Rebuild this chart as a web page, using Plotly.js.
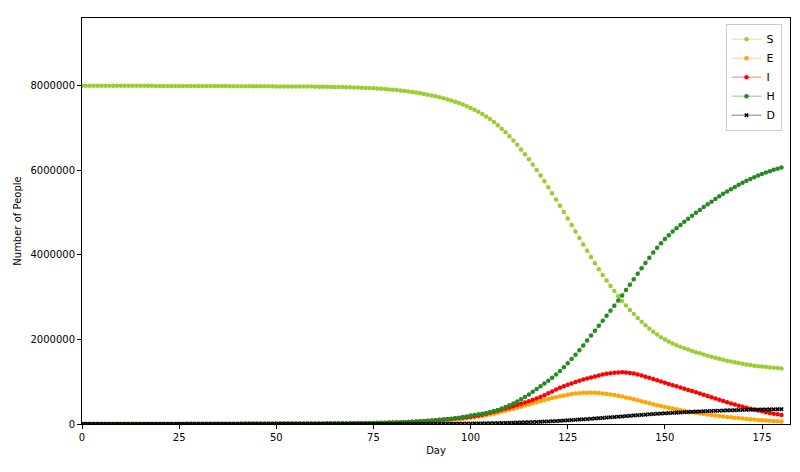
<!DOCTYPE html>
<html>
<head>
<meta charset="utf-8">
<script src="https://cdn.plot.ly/plotly-3.0.1.min.js"></script>
<style>
  html, body { margin: 0; padding: 0; background: #fff; }
  #plot { width: 800px; height: 472px; }
</style>
</head>
<body>
<div id="plot"></div>
<script>
// In thousands of people, one value per day (day 0 .. 180)
const S_k = [
  7998.5, 7998.3, 7998.3, 7998.0, 7997.9, 7997.7, 7997.6, 7997.4, 7997.3, 7997.0,
  7996.9, 7996.7, 7996.5, 7996.3, 7996.1, 7995.9, 7995.8, 7995.4, 7995.3, 7995.0,
  7994.8, 7994.5, 7994.2, 7994.0, 7993.7, 7993.3, 7993.2, 7992.8, 7992.5, 7992.2,
  7991.9, 7991.5, 7991.3, 7990.9, 7990.4, 7990.1, 7989.8, 7989.4, 7989.0, 7988.5,
  7988.2, 7987.7, 7987.2, 7986.8, 7986.3, 7985.8, 7985.3, 7985.0, 7984.4, 7983.9,
  7983.2, 7982.8, 7982.2, 7981.5, 7980.9, 7980.3, 7979.7, 7978.9, 7978.3, 7977.5,
  7976.6, 7975.5, 7974.3, 7972.9, 7971.3, 7969.7, 7967.8, 7965.8, 7963.4, 7960.8,
  7957.6, 7954.3, 7950.7, 7946.7, 7942.2, 7937.3, 7931.8, 7925.8, 7919.2, 7912.0,
  7903.9, 7895.2, 7886.1, 7875.8, 7864.0, 7851.2, 7836.9, 7821.6, 7805.2, 7786.8,
  7767.4, 7747.0, 7725.5, 7702.0, 7677.5, 7650.0, 7620.5, 7588.8, 7554.2, 7513.6,
  7470, 7428, 7381, 7329, 7272, 7209, 7140, 7065, 6984, 6897,
  6804, 6705, 6601, 6492, 6378, 6259, 6135, 6007, 5875, 5739,
  5599, 5456, 5310, 5162, 5012, 4860, 4707, 4553, 4399, 4246,
  4095, 3947, 3802, 3661, 3525, 3394, 3266, 3142, 3023, 2909,
  2801, 2698, 2600, 2507, 2419, 2335, 2256, 2182, 2114, 2052,
  1996, 1948, 1905, 1865, 1828, 1793, 1760, 1729, 1699, 1670,
  1642, 1615, 1589, 1564, 1541, 1519, 1498, 1478, 1459, 1441,
  1424, 1408, 1393, 1380, 1368, 1357, 1347, 1338, 1330, 1322,
  1315
];

const E_k = [
  1.0, 1.0, 1.0, 1.1, 1.1, 1.1, 1.2, 1.2, 1.2, 1.3,
  1.3, 1.3, 1.4, 1.4, 1.5, 1.5, 1.5, 1.6, 1.6, 1.7,
  1.7, 1.8, 1.8, 1.9, 1.9, 2.0, 2.0, 2.1, 2.1, 2.2,
  2.2, 2.3, 2.3, 2.4, 2.5, 2.5, 2.6, 2.6, 2.7, 2.8,
  2.8, 2.9, 3.0, 3.0, 3.1, 3.2, 3.3, 3.3, 3.4, 3.5,
  3.6, 3.6, 3.7, 3.8, 3.9, 4.0, 4.1, 4.2, 4.3, 4.4,
  4.5, 4.8, 5.1, 5.5, 6.0, 6.5, 7.1, 7.8, 8.6, 9.5,
  10.5, 11.5, 12.6, 13.8, 15.2, 16.7, 18.4, 20.2, 22.2, 24.4,
  27, 29.5, 32, 35, 38.5, 42, 46, 50, 54, 59,
  64, 70, 76, 83, 90, 98, 107, 116, 126, 138,
  150, 163, 177, 192, 208, 225, 245, 266, 288, 311,
  335, 360, 385, 410, 436, 462, 488, 514, 540, 565,
  590, 613, 635, 656, 675, 692, 707, 720, 730, 737,
  740, 740, 737, 731, 722, 711, 698, 683, 667, 648,
  628, 606, 583, 560, 537, 514, 491, 468, 446, 424,
  403, 383, 364, 346, 328, 311, 295, 279, 264, 250,
  236, 223, 211, 199, 188, 177, 167, 157, 148, 139,
  129, 120, 112, 104, 96, 89, 82, 75, 69, 63,
  58
];

const I_k = [
  0.5, 0.6, 0.6, 0.7, 0.7, 0.8, 0.8, 0.9, 0.9, 1.0,
  1.0, 1.1, 1.1, 1.2, 1.2, 1.3, 1.3, 1.4, 1.4, 1.5,
  1.5, 1.6, 1.7, 1.7, 1.8, 1.9, 1.9, 2.0, 2.1, 2.1,
  2.2, 2.3, 2.3, 2.4, 2.5, 2.6, 2.6, 2.7, 2.8, 2.9,
  2.9, 3.0, 3.1, 3.2, 3.3, 3.4, 3.5, 3.5, 3.6, 3.7,
  3.8, 3.9, 4.0, 4.1, 4.2, 4.3, 4.4, 4.5, 4.6, 4.8,
  5.0, 5.3, 5.6, 6.0, 6.4, 6.9, 7.4, 8.0, 8.7, 9.5,
  10.8, 12, 13.3, 14.8, 16.5, 18.4, 20.5, 22.8, 25.3, 28,
  31, 34.5, 38, 42, 46.5, 51.5, 57, 63, 69.5, 76.5,
  84, 91, 98, 105, 112, 120, 128, 137, 147, 158,
  170, 184, 200, 220, 242, 265, 290, 315, 340, 365,
  392, 420, 448, 477, 506, 537, 570, 605, 640, 680,
  725, 770, 815, 855, 892, 927, 960, 992, 1022, 1050,
  1075, 1100, 1125, 1148, 1168, 1186, 1200, 1212, 1220, 1222,
  1218, 1208, 1192, 1172, 1148, 1120, 1092, 1063, 1034, 1005,
  976, 947, 918, 890, 862, 834, 806, 778, 750, 722,
  692, 662, 633, 604, 572, 543, 515, 487, 460, 434,
  409, 385, 362, 340, 319, 299, 280, 262, 245, 229,
  214
];

const H_k = [
  0, 0.1, 0.1, 0.2, 0.3, 0.4, 0.4, 0.5, 0.6, 0.7,
  0.8, 0.9, 1.0, 1.1, 1.2, 1.3, 1.4, 1.6, 1.7, 1.8,
  2.0, 2.1, 2.3, 2.4, 2.6, 2.8, 2.9, 3.1, 3.3, 3.5,
  3.7, 3.9, 4.1, 4.3, 4.6, 4.8, 5.0, 5.3, 5.5, 5.8,
  6.0, 6.3, 6.6, 6.9, 7.2, 7.5, 7.8, 8.1, 8.5, 8.8,
  9.2, 9.5, 9.9, 10.3, 10.7, 11.1, 11.5, 12.0, 12.4, 12.9,
  13.4, 13.9, 14.4, 15.0, 15.6, 16.2, 16.9, 17.6, 18.4, 19.2,
  20.1, 21.1, 22.2, 23.4, 24.7, 26.1, 27.7, 29.4, 31.3, 33.4,
  35.7, 38.2, 41, 44, 47.5, 51.5, 56, 61, 66.5, 72.5,
  79, 86, 94, 103, 113, 124, 136, 149, 163, 180,
  199, 212, 228, 244, 262, 283, 305, 332, 364, 401,
  441, 484, 533, 585, 641, 700, 761, 825, 892, 959,
  1025, 1095, 1169, 1251, 1340, 1434, 1534, 1637, 1745, 1856,
  1973, 2090, 2206, 2323, 2441, 2558, 2678, 2798, 2918, 3041,
  3166, 3294, 3424, 3553, 3681, 3809, 3933, 4053, 4165, 4272,
  4373, 4464, 4550, 4630, 4708, 4783, 4855, 4926, 4994, 5061,
  5129, 5195, 5258, 5321, 5383, 5442, 5498, 5553, 5605, 5656,
  5705, 5752, 5796, 5837, 5876, 5912, 5947, 5979, 6009, 6037,
  6063
];

const D_k = [
  0, 0, 0, 0, 0, 0, 0, 0, 0, 0,
  0, 0, 0, 0, 0, 0, 0, 0, 0, 0,
  0, 0, 0, 0, 0, 0, 0, 0, 0, 0,
  0, 0, 0, 0, 0, 0, 0, 0, 0, 0,
  0.1, 0.1, 0.1, 0.1, 0.1, 0.1, 0.1, 0.1, 0.1, 0.1,
  0.2, 0.2, 0.2, 0.3, 0.3, 0.3, 0.3, 0.4, 0.4, 0.4,
  0.5, 0.5, 0.6, 0.6, 0.7, 0.7, 0.8, 0.8, 0.9, 1.0,
  1.0, 1.1, 1.2, 1.3, 1.4, 1.5, 1.6, 1.8, 2.0, 2.2,
  2.4, 2.6, 2.9, 3.2, 3.5, 3.8, 4.1, 4.4, 4.8, 5.2,
  5.6, 6.0, 6.5, 7.0, 7.5, 8.0, 8.5, 9.2, 9.8, 10.4,
  11, 12.5, 13.7, 15, 16.4, 18, 19.8, 21.6, 23.7, 25.8,
  28.1, 30.6, 33.3, 36.1, 39.1, 42.3, 45.7, 49.3, 53.1, 57.1,
  61.4, 65.9, 70.8, 75.9, 81.2, 86.7, 92.4, 98.3, 104.4, 110.6,
  116.9, 123.5, 130.2, 137, 143.9, 151, 158.1, 165.3, 172.5, 179.8,
  187.1, 194.2, 201.3, 208.2, 215.1, 221.7, 228.2, 234.5, 240.6, 246.6,
  252.4, 258, 263.4, 268.8, 273.9, 278.8, 283.6, 288.2, 292.6, 296.9,
  301.1, 305, 308.8, 312.4, 315.7, 318.9, 322.1, 324.9, 327.7, 330.2,
  332.7, 335, 337.1, 339.2, 341.1, 342.8, 344.5, 346, 347.5, 348.8,
  350.2
];

const xTicks = [0, 25, 50, 75, 100, 125, 150, 175];
const yTicks = [0, 2000000, 4000000, 6000000, 8000000];

// one point per day
const days = S_k.map((_, i) => i);
const toPeople = arr => arr.map(v => v * 1000);

// Helpers
const makeTrace = (name, yk, color, lineColor, symbol = 'circle', size = 4.5) => ({
  x: days,
  y: toPeople(yk),
  name,
  type: 'scatter',
  mode: 'lines+markers',
  hoverinfo: 'skip',
  line: { color: lineColor, width: 1 },
  marker: { color, size, symbol, line: { width: 0 } }
});

const traces = [
  makeTrace('S', S_k, '#9acd32', 'rgba(154,205,50,0.5)'),
  makeTrace('E', E_k, '#ffa500', 'rgba(255,165,0,0.5)'),
  makeTrace('I', I_k, '#ff0000', 'rgba(255,0,0,0.5)'),
  makeTrace('H', H_k, '#228b22', 'rgba(34,139,34,0.5)'),
  makeTrace('D', D_k, '#000000', 'rgba(0,0,0,0.5)', 'x', 4)
];

const axisBase = {
  showline: true,
  linecolor: '#000',
  linewidth: 1,
  mirror: true,
  ticks: 'outside',
  ticklen: 4,
  tickwidth: 1,
  tickcolor: '#000',
  showgrid: false,
  zeroline: false,
  tickfont: { family: 'DejaVu Sans', size: 10, color: '#000' }
};

const layout = {
  width: 800,
  height: 472,
  margin: { l: 82, r: 10, t: 18, b: 48 },
  paper_bgcolor: '#fff',
  plot_bgcolor: '#fff',
  font: { family: 'DejaVu Sans', size: 10, color: '#000' },
  xaxis: {
    ...axisBase,
    range: [0, 182.2],
    tickvals: xTicks,
    title: { text: 'Day', standoff: 4, font: { size: 10 } }
  },
  yaxis: {
    ...axisBase,
    range: [0, 9600000],
    tickvals: yTicks,
    tickformat: 'd',
    title: { text: 'Number of People', standoff: 6, font: { size: 10 } }
  },
  showlegend: true,
  legend: {
    x: 0.988, y: 0.986,
    xanchor: 'right', yanchor: 'top',
    bgcolor: 'rgba(255,255,255,0.8)',
    bordercolor: '#cccccc',
    borderwidth: 1,
    font: { size: 11 },
    itemwidth: 30
  },
  hovermode: false
};

Plotly.newPlot('plot', traces, layout, { displayModeBar: false, staticPlot: true });
</script>
</body>
</html>
